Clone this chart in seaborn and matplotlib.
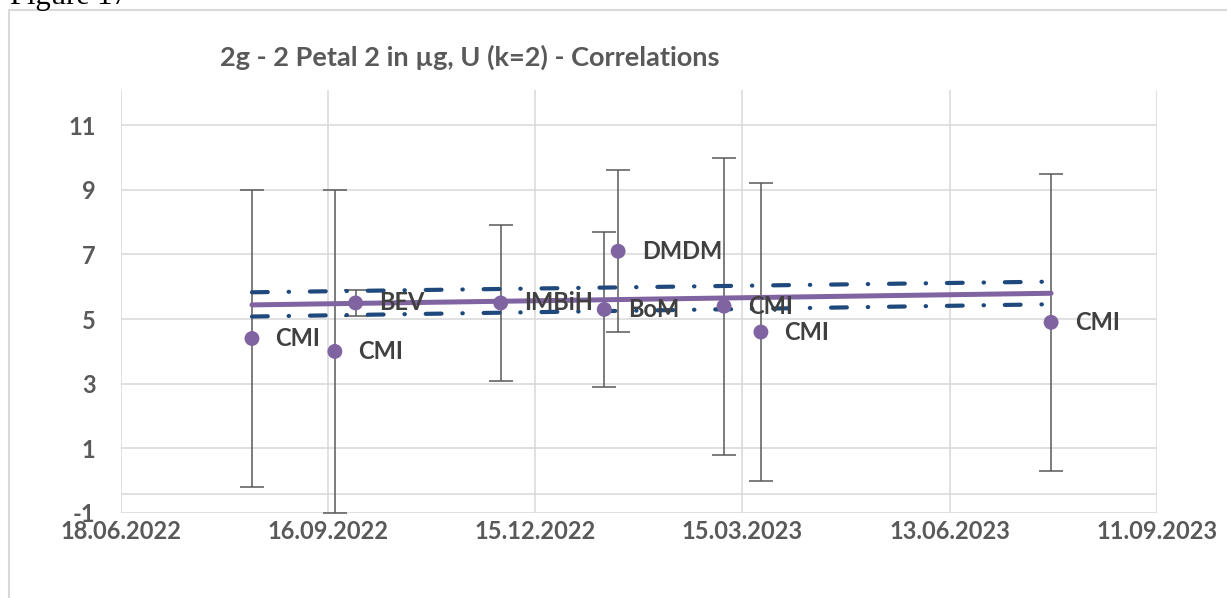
import numpy as np
import pandas as pd
import matplotlib
matplotlib.use("Agg")
import matplotlib.pyplot as plt
import matplotlib.dates as mdates
from matplotlib.lines import Line2D
import seaborn as sns

sns.set_theme(style="white")
plt.rcParams['font.family'] = ['Lato', 'DejaVu Sans']

purple = "#8064A2"
navy = "#1F497D"
grid_gray = "#D9D9D9"
text_gray = "#595959"
label_gray = "#404040"

# values
dates = ["14.08.2022", "19.09.2022", "28.09.2022", "30.11.2022", "14.01.2023",
         "20.01.2023", "07.03.2023", "23.03.2023", "27.07.2023"]
labs = ["CMI", "CMI", "BEV", "IMBiH", "BoM", "DMDM", "CMI", "CMI", "CMI"]
values = [4.4, 4.0, 5.5, 5.5, 5.3, 7.1, 5.4, 4.6, 4.9]
unc = [4.6, 5.0, 0.4, 2.4, 2.4, 2.5, 4.6, 4.6, 4.6]

trend_dates = ["14.08.2022", "27.07.2023"]
trend_mid = [5.44, 5.80]
trend_upper = [5.83, 6.16]
trend_lower = [5.08, 5.46]

tick_dates = ["18.06.2022", "16.09.2022", "15.12.2022", "15.03.2023", "13.06.2023", "11.09.2023"]
y_ticks = [-1, 1, 3, 5, 7, 9, 11]
y_top = 12.09
axis_cross = -0.4

df = pd.DataFrame({"date": pd.to_datetime(dates, format="%d.%m.%Y"),
                   "lab": labs, "value": values, "U": unc})
df["x"] = mdates.date2num(df["date"])
tr = pd.DataFrame({"x": mdates.date2num(pd.to_datetime(trend_dates, format="%d.%m.%Y")),
                   "mid": trend_mid, "up": trend_upper, "lo": trend_lower})
xt = mdates.date2num(pd.to_datetime(tick_dates, format="%d.%m.%Y"))

fig = plt.figure(figsize=(12.27, 5.98), dpi=100)
ax = fig.add_axes([120.7 / 1227, 1 - 513 / 598, (1157 - 120.7) / 1227, (513 - 90) / 598])

# grid
for v in xt:
    ax.axvline(v, color=grid_gray, lw=1.1, zorder=0)
for v in y_ticks:
    ax.axhline(v, color=grid_gray, lw=1.1, zorder=0)
ax.axhline(axis_cross, color=grid_gray, lw=1.1, zorder=0)

ax.errorbar(df["x"], df["value"], yerr=df["U"], fmt="none", ecolor=text_gray,
            elinewidth=1.1, capsize=8.5, capthick=1.1, zorder=2)

for col in ["up", "lo"]:
    ax.plot(tr["x"], tr[col], color=navy, lw=3.0, dashes=(3.8, 5.0, 0.1, 5.0),
            dash_capstyle="round", zorder=3)
sns.lineplot(data=tr, x="x", y="mid", color=purple, lw=3.6, ax=ax, zorder=4,
             solid_capstyle="round")

sns.scatterplot(data=df, x="x", y="value", color=purple, s=115, edgecolor="none",
                ax=ax, zorder=5)

for _, r in df.iterrows():
    ax.annotate(r["lab"], (r["x"], r["value"]), xytext=(17, 0), textcoords="offset points",
                ha="left", va="center", fontsize=17, fontweight="bold", color=label_gray,
                zorder=6)

ax.set_xlim(xt[0], xt[-1])
ax.set_ylim(y_ticks[0], y_top)
ax.set_xticks(xt)
ax.set_xticklabels(tick_dates)
ax.set_yticks(y_ticks)
ax.set_yticklabels([str(v) for v in y_ticks])
ax.tick_params(axis="both", length=0, labelsize=17, labelcolor=text_gray)
ax.tick_params(axis="x", pad=5)
ax.tick_params(axis="y", pad=18)
for t in ax.get_xticklabels() + ax.get_yticklabels():
    t.set_fontweight("bold")
ax.set_xlabel("")
ax.set_ylabel("")
for s in ax.spines.values():
    s.set_visible(False)
ax.set_facecolor("none")

fig.text(220 / 1227, 1 - 57 / 598, "2g - 2 Petal 2 in µg, U (k=2) - Correlations",
         ha="left", va="center", fontsize=19.5, fontweight="bold", color=text_gray)
fig.text(10 / 1227, 1 - 4 / 598, "Figure 17", ha="left", va="baseline",
         fontsize=22, family="Liberation Serif", color="black")

# chart frame
fig.add_artist(Line2D([9 / 1227, 9 / 1227, 1.0], [0.0, 1 - 10 / 598, 1 - 10 / 598],
                      transform=fig.transFigure, color=grid_gray, lw=1.5))

fig.savefig("out.png", dpi=100)
